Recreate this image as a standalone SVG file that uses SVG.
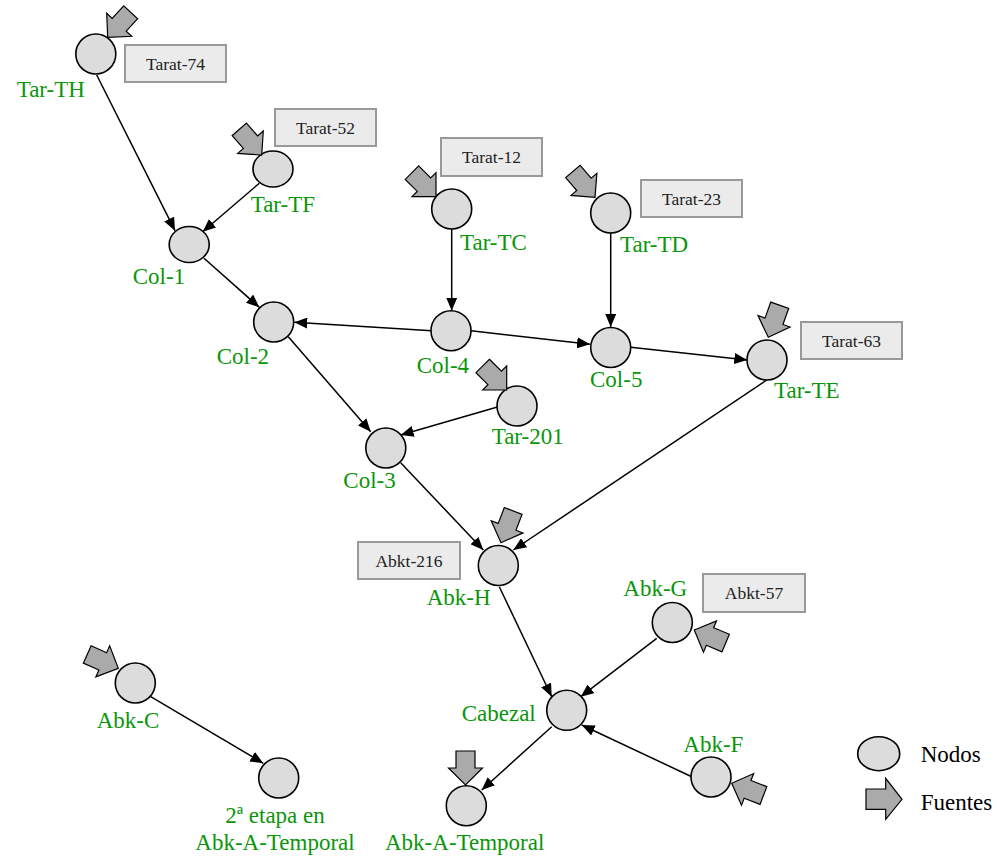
<svg xmlns="http://www.w3.org/2000/svg" xmlns:xlink="http://www.w3.org/1999/xlink" width="997" height="861" viewBox="0 0 997 861">
<defs>
<style>
.node{fill:#dcdcdc;stroke:#000;stroke-width:1.6}
.lbl{font-family:"Liberation Serif","Times New Roman",serif;font-size:23px;fill:#0a960a}
.box{fill:#ebebeb;stroke:#999;stroke-width:2}
.btxt{font-family:"Liberation Serif","Times New Roman",serif;font-size:17.5px;fill:#222;text-anchor:middle}
.src{fill:#aaa;stroke:#000;stroke-width:1.2;stroke-linejoin:miter}
.edge{fill:none;stroke:#000;stroke-width:1.5;marker-end:url(#ah)}
.leg{font-family:"Liberation Serif","Times New Roman",serif;font-size:23px;fill:#000}
</style>
<marker id="ah" viewBox="0 0 13 11" refX="13" refY="5.5" markerWidth="13" markerHeight="11" markerUnits="userSpaceOnUse" orient="auto">
<path d="M0,0 L13,5.5 L0,11 Z" fill="#000"/>
</marker>
<path id="srcArrow" class="src" d="M-34,-9.5 H-17 V-17 L0,0 L-17,17 V9.5 H-34 Z"/>
</defs>
<rect width="997" height="861" fill="#fff"/>

<g id="connectors">
<path class="edge" d="M96.7,75 L175,230.7"/>
<path class="edge" d="M259.3,183.3 L202.7,231.7"/>
<path class="edge" d="M204,258.3 L259.3,307.3"/>
<path class="edge" d="M431.7,330.7 L294.3,322.3"/>
<path class="edge" d="M288.3,336.7 L370.7,431.7"/>
<path class="edge" d="M498.3,406.7 L400.7,435"/>
<path class="edge" d="M451.7,229 L451.7,310.7"/>
<path class="edge" d="M610.7,233 L610.7,327"/>
<path class="edge" d="M471,330.7 L590,344.3"/>
<path class="edge" d="M630.7,347.3 L747.3,360"/>
<path class="edge" d="M766.7,380 L513.3,550"/>
<path class="edge" d="M400.7,462.7 L483.3,550"/>
<path class="edge" d="M499.3,586.7 L551.7,696.7"/>
<path class="edge" d="M656.7,638.3 L580.7,696.7"/>
<path class="edge" d="M691.7,776.7 L581.7,725"/>
<path class="edge" d="M551.7,726.7 L481.7,790"/>
<path class="edge" d="M150.7,696.7 L263.3,763.3"/>
</g>

<g id="tar-th">
<ellipse class="node" cx="95.8" cy="54" rx="20" ry="20"/>
<use xlink:href="#srcArrow" transform="translate(107.7,37.3) rotate(132.6)"/>
<text class="lbl" x="16.7" y="96.7">Tar-TH</text>
<rect class="box" x="125" y="45" width="101" height="37"/>
<text class="btxt" x="175.5" y="69.5">Tarat-74</text>
</g>
<g id="tar-tf">
<ellipse class="node" cx="273" cy="169" rx="20" ry="18"/>
<use xlink:href="#srcArrow" transform="translate(261.7,155) rotate(48.8)"/>
<text class="lbl" x="250.7" y="211.7">Tar-TF</text>
<rect class="box" x="275" y="109" width="101" height="37"/>
<text class="btxt" x="325.5" y="133.5">Tarat-52</text>
</g>
<g id="tar-tc">
<ellipse class="node" cx="451.7" cy="209" rx="20" ry="20"/>
<use xlink:href="#srcArrow" transform="translate(436,196.7) rotate(45)"/>
<text class="lbl" x="460" y="250">Tar-TC</text>
<rect class="box" x="441" y="138" width="101" height="38"/>
<text class="btxt" x="491.5" y="163">Tarat-12</text>
</g>
<g id="tar-td">
<ellipse class="node" cx="610.7" cy="213" rx="20" ry="20"/>
<use xlink:href="#srcArrow" transform="translate(595,197.3) rotate(49.5)"/>
<text class="lbl" x="620" y="252.3">Tar-TD</text>
<rect class="box" x="641" y="180" width="101" height="37"/>
<text class="btxt" x="691.5" y="204.5">Tarat-23</text>
</g>
<g id="col-1">
<ellipse class="node" cx="189.2" cy="244.5" rx="20" ry="18"/>
<text class="lbl" x="132.7" y="284">Col-1</text>
</g>
<g id="col-2">
<ellipse class="node" cx="273.7" cy="322" rx="20" ry="20"/>
<text class="lbl" x="216.7" y="364">Col-2</text>
</g>
<g id="col-4">
<ellipse class="node" cx="451" cy="330.7" rx="20" ry="20"/>
<text class="lbl" x="416.7" y="372.7">Col-4</text>
</g>
<g id="col-5">
<ellipse class="node" cx="610.7" cy="347.5" rx="20" ry="20"/>
<text class="lbl" x="590" y="386.7">Col-5</text>
</g>
<g id="tar-te">
<ellipse class="node" cx="767" cy="360" rx="20" ry="20"/>
<use xlink:href="#srcArrow" transform="translate(768.3,337.3) rotate(109.6)"/>
<text class="lbl" x="774" y="398.3">Tar-TE</text>
<rect class="box" x="801" y="322" width="101" height="37"/>
<text class="btxt" x="851.5" y="346.5">Tarat-63</text>
</g>
<g id="tar-201">
<ellipse class="node" cx="517" cy="406" rx="20" ry="20"/>
<use xlink:href="#srcArrow" transform="translate(506.7,390) rotate(45)"/>
<text class="lbl" x="491.7" y="444">Tar-201</text>
</g>
<g id="col-3">
<ellipse class="node" cx="385.8" cy="448" rx="20" ry="20"/>
<text class="lbl" x="343.3" y="488.3">Col-3</text>
</g>
<g id="abk-h">
<ellipse class="node" cx="498.3" cy="565.5" rx="20" ry="20"/>
<use xlink:href="#srcArrow" transform="translate(501,542.7) rotate(111)"/>
<text class="lbl" x="426.7" y="605">Abk-H</text>
<rect class="box" x="358" y="542" width="102" height="37"/>
<text class="btxt" x="409" y="566.5">Abkt-216</text>
</g>
<g id="abk-g">
<ellipse class="node" cx="672.3" cy="622.5" rx="20" ry="20"/>
<use xlink:href="#srcArrow" transform="translate(694.3,630) rotate(202.6)"/>
<text class="lbl" x="623.3" y="595.7">Abk-G</text>
<rect class="box" x="703" y="574" width="102" height="38"/>
<text class="btxt" x="754" y="599">Abkt-57</text>
</g>
<g id="cabezal">
<ellipse class="node" cx="566.7" cy="710.3" rx="20" ry="20"/>
<text class="lbl" x="461.7" y="720.7">Cabezal</text>
</g>
<g id="abk-f">
<ellipse class="node" cx="711" cy="777" rx="20" ry="20"/>
<use xlink:href="#srcArrow" transform="translate(731.7,783.3) rotate(201)"/>
<text class="lbl" x="683.3" y="751.7">Abk-F</text>
</g>
<g id="abk-c">
<ellipse class="node" cx="135.3" cy="683" rx="20" ry="20"/>
<use xlink:href="#srcArrow" transform="translate(118.3,668.3) rotate(24)"/>
<text class="lbl" x="96.7" y="728.3">Abk-C</text>
</g>
<g id="etapa2">
<ellipse class="node" cx="278.7" cy="778" rx="20" ry="20"/>
<text class="lbl" x="275" y="823.3" text-anchor="middle">2ª etapa en</text>
<text class="lbl" x="275" y="850" text-anchor="middle">Abk-A-Temporal</text>
</g>
<g id="abk-a-temporal">
<ellipse class="node" cx="466.3" cy="805.7" rx="20" ry="20"/>
<use xlink:href="#srcArrow" transform="translate(465.5,785) rotate(90)"/>
<text class="lbl" x="385" y="850">Abk-A-Temporal</text>
</g>

<g id="legend">
<ellipse class="node" cx="878.7" cy="753.7" rx="21" ry="17"/>
<text class="leg" x="920.7" y="761.7">Nodos</text>
<path class="src" d="M866,789 H885.7 V778.3 L902,799.3 L885.7,819.3 V809.3 H866 Z"/>
<text class="leg" x="920.7" y="809.7">Fuentes</text>
</g>
</svg>
